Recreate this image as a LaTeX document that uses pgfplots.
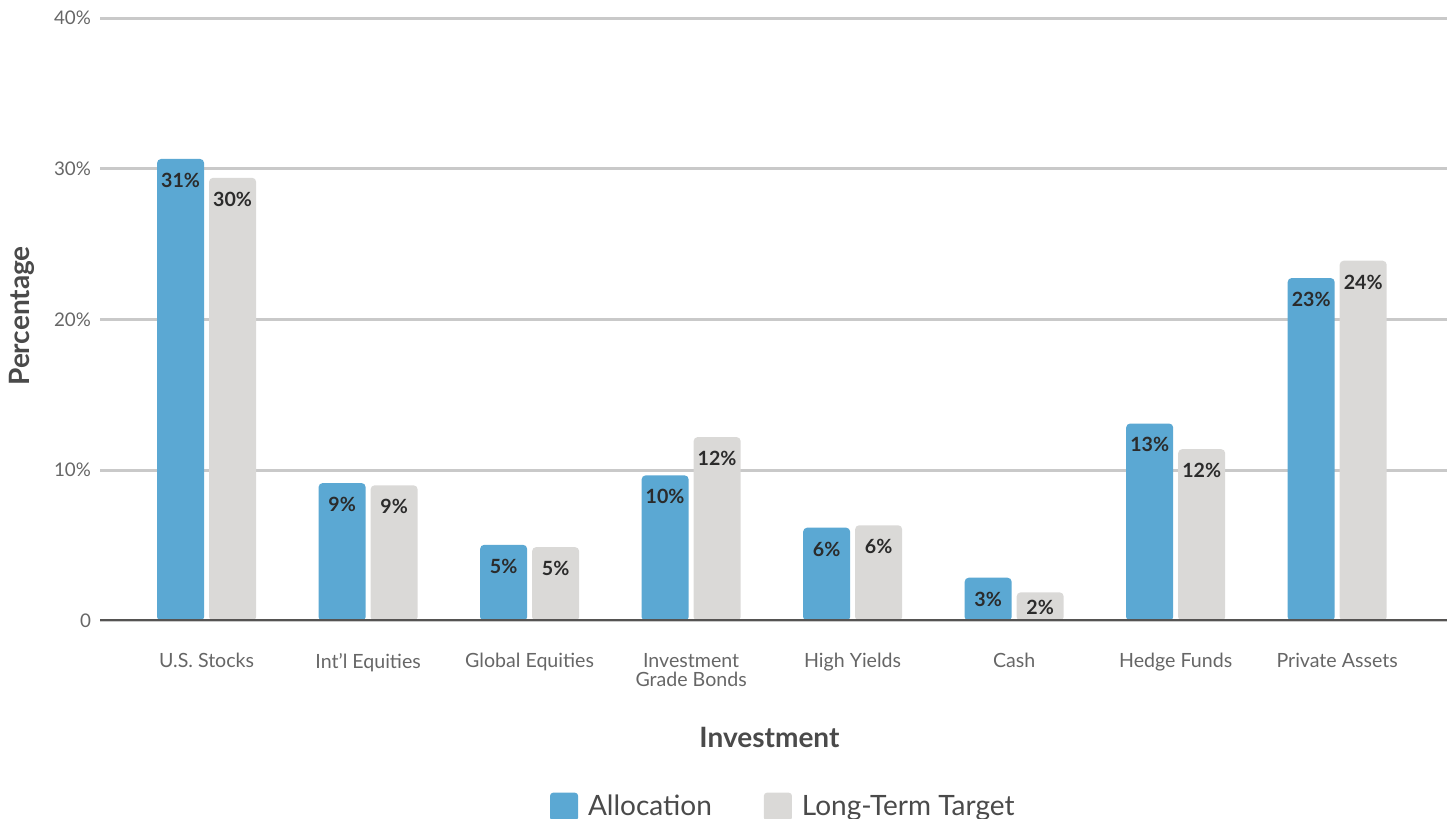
\documentclass[border=0pt]{standalone}
\usepackage{pgfplots}
\pgfplotsset{compat=1.18}
\usepackage{fontspec}
\setmainfont{Lato}
\definecolor{allocblue}{HTML}{5BA8D3}
\definecolor{targetgray}{HTML}{DAD9D7}
\definecolor{gridgray}{HTML}{C9C9C9}
\definecolor{basegray}{HTML}{555352}
\definecolor{ticktext}{HTML}{666666}
\definecolor{labeltext}{HTML}{4A4A4A}
\definecolor{valtext}{HTML}{2B2B2B}
\begin{document}
\begin{tikzpicture}
\path[use as bounding box] (0,0) rectangle (726pt,409.5pt);
\begin{axis}[
  at={(50pt,99pt)}, anchor=south west,
  scale only axis, width=673.5pt, height=301.5pt,
  xmin=-0.66, xmax=7.68, ymin=0, ymax=40,
  axis x line*=bottom, axis y line*=left,
  axis line style={draw=none},
  major tick length=0pt,
  ytick={0,10,20,30,40},
  yticklabels={0,10\%,20\%,30\%,40\%},
  yticklabel style={font=\fontsize{9.4pt}{11pt}\selectfont, text=ticktext, anchor=east, xshift=-1pt},
  xtick={0,...,7},
  xticklabels={U.S. Stocks,Int'l Equities,Global Equities,Investment\\Grade Bonds,High Yields,Cash,Hedge Funds,Private Assets},
  xticklabel style={font=\fontsize{9.8pt}{9.8pt}\selectfont, text=ticktext, align=center, anchor=north, yshift=-12.5pt},
  ymajorgrids, major grid style={gridgray, line width=1.5pt},
  ylabel={Percentage},
  every axis y label/.style={at={(axis description cs:-0.058,0.506)}, rotate=90, anchor=center, font=\bfseries\fontsize{14pt}{16pt}\selectfont, text=labeltext},
  xlabel={Investment},
  every axis x label/.style={at={(axis description cs:0.497,-0.194)}, anchor=center, font=\bfseries\fontsize{14pt}{16pt}\selectfont, text=labeltext},
  ybar, bar width=23.5pt,
  point meta=explicit symbolic,
  visualization depends on={y \as \rawy},
  nodes near coords={\pgfplotspointmeta\%},
  every node near coord/.append style={anchor=north, yshift={-3.5pt+3pt*(\rawy<2.5)}, font=\bfseries\fontsize{9.8pt}{11pt}\selectfont, text=valtext},
  legend style={draw=none, fill=none, at={(0.508,-0.308)}, anchor=center, legend columns=2,
    font=\fontsize{14pt}{16pt}\selectfont, text=labeltext,
    /tikz/every odd column/.append style={column sep=3pt},
    /tikz/every even column/.append style={column sep=24pt}},
  legend image code/.code={\fill[#1, rounded corners=1.5pt] (0pt,-7pt) rectangle (14pt,7pt);},
]
\addplot[fill=allocblue, draw=none, bar shift=-13pt, rounded corners=2pt] coordinates {
 (0,30.65) [31] (1,9.15) [9] (2,5.05) [5] (3,9.66) [10] (4,6.19) [6] (5,2.87) [3] (6,13.1) [13] (7,22.75) [23]};
\addlegendentry{Allocation}
\addplot[fill=targetgray, draw=none, bar shift=13pt, rounded corners=2pt] coordinates {
 (0,29.4) [30] (1,9.0) [9] (2,4.9) [5] (3,12.2) [12] (4,6.35) [6] (5,1.9) [2] (6,11.4) [12] (7,23.9) [24]};
\addlegendentry{Long-Term Target}
\draw[basegray, line width=2pt] (rel axis cs:0,0) -- (rel axis cs:1,0);
\end{axis}
\end{tikzpicture}
\end{document}
